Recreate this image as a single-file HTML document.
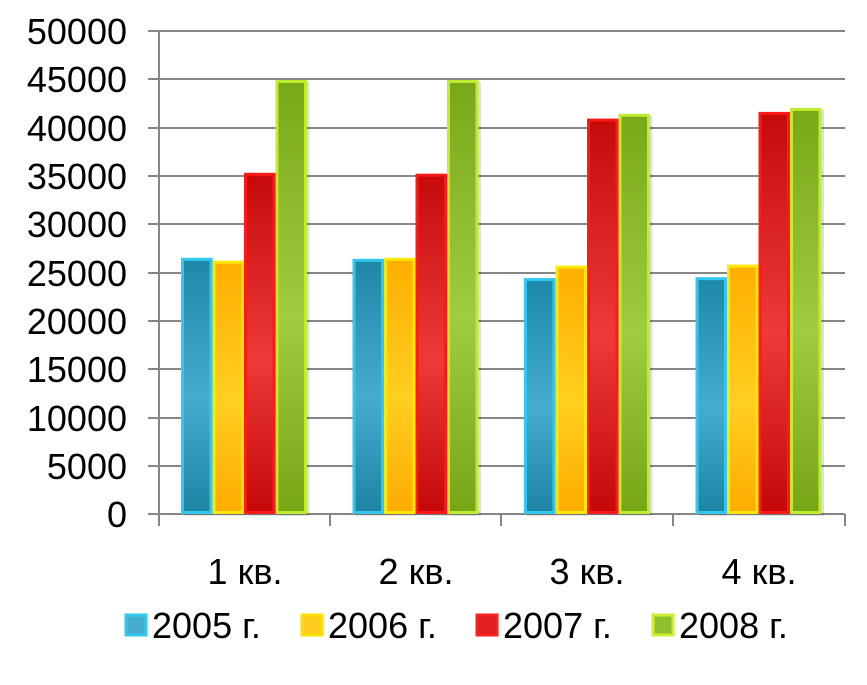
<!DOCTYPE html>
<html><head><meta charset="utf-8"><style>
body{margin:0;background:#fff;}
svg text{font-family:"Liberation Sans",sans-serif;fill:#000;}
</style></head><body>
<svg width="867" height="680" viewBox="0 0 867 680" xmlns="http://www.w3.org/2000/svg">
<defs>
<linearGradient id="gb" x1="0" y1="0" x2="0" y2="1"><stop offset="0" stop-color="#1f88a8"/><stop offset="0.55" stop-color="#45acd0"/><stop offset="1" stop-color="#1e84a4"/></linearGradient>
<linearGradient id="go" x1="0" y1="0" x2="0" y2="1"><stop offset="0" stop-color="#ffae00"/><stop offset="0.55" stop-color="#ffcf20"/><stop offset="1" stop-color="#ffab00"/></linearGradient>
<linearGradient id="gr" x1="0" y1="0" x2="0" y2="1"><stop offset="0" stop-color="#c60a0a"/><stop offset="0.55" stop-color="#ee3a3a"/><stop offset="1" stop-color="#c40808"/></linearGradient>
<linearGradient id="gg" x1="0" y1="0" x2="0" y2="1"><stop offset="0" stop-color="#78a818"/><stop offset="0.55" stop-color="#a0cc40"/><stop offset="1" stop-color="#76a516"/></linearGradient>
</defs>
<g stroke="#868686" stroke-width="2">
<line x1="148" y1="31" x2="845" y2="31"/><line x1="148" y1="79" x2="845" y2="79"/><line x1="148" y1="128" x2="845" y2="128"/><line x1="148" y1="176" x2="845" y2="176"/><line x1="148" y1="224" x2="845" y2="224"/><line x1="148" y1="273" x2="845" y2="273"/><line x1="148" y1="321" x2="845" y2="321"/><line x1="148" y1="369" x2="845" y2="369"/><line x1="148" y1="418" x2="845" y2="418"/><line x1="148" y1="466" x2="845" y2="466"/><line x1="148" y1="514" x2="845" y2="514"/>
<line x1="159" y1="31" x2="159" y2="526"/><line x1="330" y1="514" x2="330" y2="526"/><line x1="501" y1="514" x2="501" y2="526"/><line x1="673" y1="514" x2="673" y2="526"/><line x1="845" y1="514" x2="845" y2="526"/>
</g>
<g fill="#000" opacity="0.12">
<rect x="184" y="259.8" width="31" height="256"/><rect x="215.5" y="262.7" width="31" height="253"/><rect x="247" y="174.8" width="31" height="341"/><rect x="278.5" y="82" width="31" height="434"/>
<rect x="355.5" y="260.8" width="31" height="255"/><rect x="387" y="259.8" width="31" height="256"/><rect x="418.5" y="175.7" width="31" height="340"/><rect x="450" y="82" width="31" height="434"/>
<rect x="527" y="280.1" width="31" height="236"/><rect x="558.5" y="267.6" width="31" height="248"/><rect x="590" y="120.6" width="31" height="395"/><rect x="621.5" y="115.8" width="31" height="400"/>
<rect x="698.5" y="279.2" width="31" height="237"/><rect x="730" y="266.6" width="31" height="249"/><rect x="761.5" y="113.9" width="31" height="402"/><rect x="793" y="110" width="31" height="406"/>
</g>
<g stroke-width="3">
<rect x="182.5" y="259.3" width="28.5" height="253.2" fill="url(#gb)" stroke="#30c8f0"/>
<rect x="214" y="262.2" width="28.5" height="250.3" fill="url(#go)" stroke="#ffe800"/>
<rect x="245.5" y="174.3" width="28.5" height="338.2" fill="url(#gr)" stroke="#ff1818"/>
<rect x="277" y="81.5" width="28.5" height="431" fill="url(#gg)" stroke="#c0ec30"/>
<rect x="354" y="260.3" width="28.5" height="252.2" fill="url(#gb)" stroke="#30c8f0"/>
<rect x="385.5" y="259.3" width="28.5" height="253.2" fill="url(#go)" stroke="#ffe800"/>
<rect x="417" y="175.2" width="28.5" height="337.3" fill="url(#gr)" stroke="#ff1818"/>
<rect x="448.5" y="81.5" width="28.5" height="431" fill="url(#gg)" stroke="#c0ec30"/>
<rect x="525.5" y="279.6" width="28.5" height="232.9" fill="url(#gb)" stroke="#30c8f0"/>
<rect x="557" y="267.1" width="28.5" height="245.4" fill="url(#go)" stroke="#ffe800"/>
<rect x="588.5" y="120.1" width="28.5" height="392.4" fill="url(#gr)" stroke="#ff1818"/>
<rect x="620" y="115.3" width="28.5" height="397.2" fill="url(#gg)" stroke="#c0ec30"/>
<rect x="697" y="278.7" width="28.5" height="233.8" fill="url(#gb)" stroke="#30c8f0"/>
<rect x="728.5" y="266.1" width="28.5" height="246.4" fill="url(#go)" stroke="#ffe800"/>
<rect x="760" y="113.4" width="28.5" height="399.1" fill="url(#gr)" stroke="#ff1818"/>
<rect x="791.5" y="109.5" width="28.5" height="403" fill="url(#gg)" stroke="#c0ec30"/>
</g>
<g font-size="36" text-anchor="end">
<text x="127" y="44">50000</text><text x="127" y="92">45000</text><text x="127" y="141">40000</text><text x="127" y="189">35000</text><text x="127" y="237">30000</text><text x="127" y="286">25000</text><text x="127" y="334">20000</text><text x="127" y="382">15000</text><text x="127" y="431">10000</text><text x="127" y="479">5000</text><text x="127" y="527">0</text>
</g>
<g font-size="36" text-anchor="middle">
<text x="245" y="584">1 кв.</text><text x="416" y="584">2 кв.</text><text x="587" y="584">3 кв.</text><text x="759" y="584">4 кв.</text>
</g>
<g font-size="36">
<rect x="126" y="615" width="20" height="20" fill="#45acd0" stroke="#32c8f0" stroke-width="3"/><text x="152" y="638">2005 г.</text>
<rect x="302" y="615" width="20" height="20" fill="#ffcc20" stroke="#ffe000" stroke-width="3"/><text x="328" y="638">2006 г.</text>
<rect x="477" y="615" width="20" height="20" fill="#e02020" stroke="#ff2020" stroke-width="3"/><text x="503" y="638">2007 г.</text>
<rect x="653" y="615" width="20" height="20" fill="#8ec030" stroke="#ccf030" stroke-width="3"/><text x="679" y="638">2008 г.</text>
</g>
</svg>
</body></html>
